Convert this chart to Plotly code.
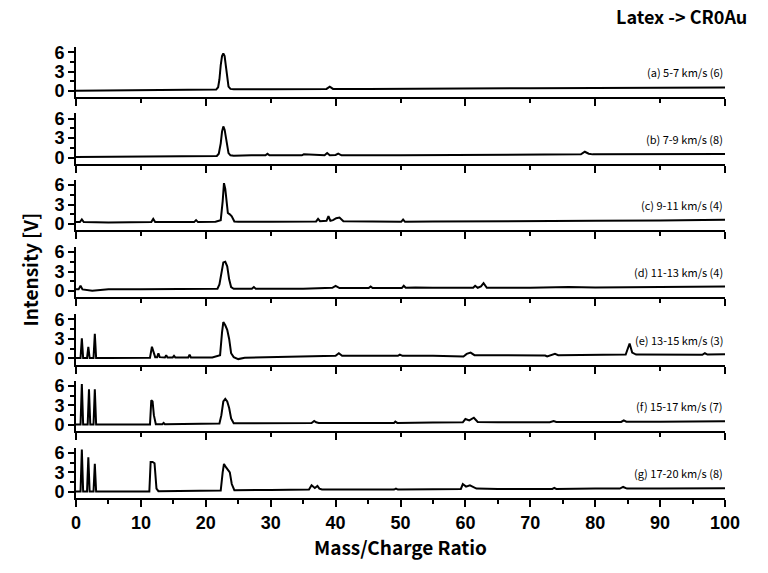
import plotly.graph_objects as go

# ---------------- data ----------------
labels = ["(a) 5-7 km/s (6)", "(b) 7-9 km/s (8)", "(c) 9-11 km/s (4)", "(d) 11-13 km/s (4)",
          "(e) 13-15 km/s (3)", "(f) 15-17 km/s (7)", "(g) 17-20 km/s (8)"]

a_x = [0, 5, 10, 15, 20, 21.6, 21.9, 22.1, 22.3, 22.5, 22.7, 22.9, 23.1, 23.3, 23.5, 23.8, 24.3, 30, 35,
       38.6, 39.1, 39.6, 45, 50, 60, 70, 80, 90, 100]
a_y = [0.05, 0.08, 0.1, 0.15, 0.2, 0.25, 0.6, 1.8, 4.0, 5.4, 5.8, 5.4, 3.8, 1.8, 0.7, 0.35, 0.3, 0.3, 0.3,
       0.35, 0.7, 0.35, 0.35, 0.35, 0.4, 0.45, 0.5, 0.5, 0.55]

b_x = [0, 5, 10, 15, 20, 21.7, 22.0, 22.3, 22.5, 22.7, 22.9, 23.1, 23.3, 23.5, 23.8, 24.3, 27, 29.2, 29.5,
       29.8, 34.8, 35.1, 38.3, 38.7, 39.1, 40.0, 40.4, 40.9, 50, 60, 70, 77.8, 78.4, 79.0, 79.6, 90, 100]
b_y = [0.1, 0.12, 0.15, 0.18, 0.2, 0.25, 0.6, 2.2, 4.0, 4.8, 4.3, 3.0, 1.5, 0.7, 0.35, 0.3, 0.35, 0.35, 0.6,
       0.35, 0.35, 0.5, 0.35, 0.7, 0.35, 0.4, 0.6, 0.35, 0.35, 0.4, 0.45, 0.5, 0.9, 0.6, 0.5, 0.5, 0.55]

c_x = [0, 0.6, 0.9, 1.2, 5, 10, 11.6, 11.9, 12.2, 15, 18.2, 18.5, 18.8, 21.5, 22.3, 22.6, 22.8, 23.0,
       23.2, 23.4, 23.7, 24.0, 24.4, 25, 30, 35, 37.0, 37.3, 37.6, 38.6, 38.9, 39.2, 39.6, 40.1, 40.6,
       41.2, 45, 50.1, 50.4, 50.7, 55, 60, 70, 80, 90, 100]
c_y = [0.3, 0.3, 0.7, 0.3, 0.25, 0.3, 0.3, 0.8, 0.3, 0.3, 0.3, 0.6, 0.3, 0.35, 0.6, 3.5, 6.3, 5.4, 2.8,
       1.7, 1.5, 1.2, 0.4, 0.35, 0.35, 0.35, 0.4, 0.8, 0.45, 0.5, 1.2, 0.5, 0.6, 0.9, 1.0, 0.45, 0.4,
       0.35, 0.7, 0.35, 0.4, 0.4, 0.5, 0.5, 0.55, 0.65]

d_x = [0, 0.4, 0.7, 1.0, 2.5, 5, 10, 15, 20, 21.8, 22.1, 22.4, 22.7, 23.0, 23.3, 23.6, 23.9, 24.3, 25,
       27.1, 27.4, 27.7, 35, 39.5, 40.0, 40.6, 45.1, 45.4, 45.7, 50.2, 50.5, 50.8, 52.3, 55, 61.2, 61.5,
       61.9, 62.4, 62.8, 63.3, 70, 75.9, 80, 90, 100]
d_y = [0.25, 0.25, 0.8, 0.25, 0.05, 0.25, 0.25, 0.3, 0.3, 0.35, 1.0, 3.0, 4.4, 4.5, 3.8, 1.8, 0.6, 0.35,
       0.35, 0.35, 0.6, 0.35, 0.35, 0.5, 0.8, 0.45, 0.45, 0.7, 0.45, 0.45, 0.8, 0.5, 0.55, 0.5, 0.5, 0.8,
       0.5, 0.7, 1.2, 0.5, 0.5, 0.6, 0.55, 0.6, 0.7]

e_x = [0, 0.7, 0.9, 1.1, 1.7, 1.9, 2.1, 2.7, 2.9, 3.1, 5, 10, 11.4, 11.7, 11.9, 12.2, 12.5, 12.7, 12.9,
       13.7, 13.9, 14.1, 14.9, 15.1, 15.3, 17.3, 17.5, 17.7, 21, 22.2, 22.5, 22.7, 23.0, 23.3, 23.6,
       23.9, 24.3, 25.0, 26, 30, 35, 40.0, 40.5, 41.0, 45, 49.6, 49.9, 50.3, 55, 59.4, 59.7, 60.2, 60.8,
       61.4, 65, 72.3, 72.6, 73.2, 73.8, 74.3, 80, 84.7, 85.3, 85.7, 86.3, 90, 96.5, 96.9, 97.3, 100]
e_y = [0.05, 0.05, 3.1, 0.05, 0.05, 1.8, 0.05, 0.05, 3.8, 0.05, 0.05, 0.1, 0.1, 1.8, 1.0, 0.2, 0.2, 0.8,
       0.2, 0.15, 0.5, 0.15, 0.15, 0.4, 0.15, 0.15, 0.6, 0.15, 0.15, 0.5, 4.0, 5.6, 5.1, 4.4, 3.0,
       0.8, 0.2, -0.1, 0.1, 0.2, 0.3, 0.4, 0.8, 0.4, 0.4, 0.4, 0.6, 0.4, 0.4, 0.4, 0.3, 0.7, 0.9,
       0.5, 0.45, 0.45, 0.3, 0.5, 0.7, 0.5, 0.5, 0.6, 2.3, 0.9, 0.6, 0.55, 0.55, 0.8, 0.6, 0.65]

f_x = [0, 0.7, 0.9, 1.1, 1.8, 2.0, 2.2, 2.7, 2.9, 3.1, 5, 10, 11.4, 11.6, 11.8, 12.0, 12.3, 13.3, 13.5,
       13.7, 20, 22.1, 22.4, 22.7, 23.0, 23.3, 23.6, 23.9, 24.3, 30, 36.3, 36.7, 37.0, 37.4, 40, 49.0,
       49.2, 49.5, 55, 59.6, 60.0, 60.6, 61.3, 61.9, 65, 73.0, 73.6, 74.0, 80, 84.0, 84.4, 84.8, 90, 100]
f_y = [0.05, 0.05, 6.3, 0.05, 0.05, 5.5, 0.05, 0.05, 5.5, 0.05, 0.05, 0.05, 0.05, 3.8, 3.6, 1.5, 0.1,
       0.1, 0.3, 0.1, 0.1, 0.2, 1.5, 3.6, 4.0, 3.6, 2.6, 1.0, 0.25, 0.25, 0.3, 0.6, 0.4, 0.3, 0.3, 0.3,
       0.5, 0.3, 0.35, 0.4, 0.9, 0.7, 1.1, 0.45, 0.4, 0.4, 0.6, 0.45, 0.45, 0.45, 0.7, 0.5, 0.5, 0.55]

g_x = [0, 0.7, 0.9, 1.1, 1.7, 1.9, 2.1, 2.7, 2.9, 3.1, 5, 10, 11.3, 11.5, 11.8, 12.1, 12.4, 12.7, 20,
       22.3, 22.6, 22.8, 23.1, 23.4, 23.7, 24.0, 24.4, 30, 35.9, 36.3, 36.8, 37.2, 37.5, 37.9, 45, 49.0,
       49.3, 49.6, 55, 59.3, 59.6, 60.1, 60.7, 61.2, 61.7, 65, 73.4, 73.7, 74.0, 80, 83.8, 84.3, 84.9,
       90, 100]
g_y = [0.05, 0.05, 6.5, 0.05, 0.05, 5.3, 0.05, 0.05, 4.3, 0.05, 0.05, 0.05, 0.05, 4.6, 4.6, 4.4, 0.5,
       0.1, 0.1, 0.2, 3.0, 4.3, 3.8, 3.4, 3.0, 1.2, 0.25, 0.3, 0.35, 1.0, 0.6, 0.9, 0.5, 0.35, 0.35,
       0.35, 0.5, 0.35, 0.4, 0.45, 1.2, 0.8, 1.0, 0.8, 0.5, 0.45, 0.45, 0.6, 0.45, 0.5, 0.5, 0.75, 0.5,
       0.5, 0.55]

xs = [a_x, b_x, c_x, d_x, e_x, f_x, g_x]
ys = [a_y, b_y, c_y, d_y, e_y, f_y, g_y]

# ---------------- layout geometry ----------------
W, H = 768, 573
zero_px = [91, 157.5, 224, 291, 358.5, 425, 492]
px_per_unit = 6.5
y_lo, y_hi = -0.95, 6.8
x_left_px = 75.5
x_right_px = x_left_px + 100 * px_per_unit
top_px_all = zero_px[0] - y_hi * px_per_unit
bot_px_all = zero_px[-1] - y_lo * px_per_unit
PW = x_right_px - x_left_px
PH = bot_px_all - top_px_all


def px_to_paper_x(px):
    return (px - x_left_px) / PW


def px_to_paper_y(py):
    return (bot_px_all - py) / PH


FONT = "Noto Sans CJK JP"
TICKFONT = dict(family="Liberation Sans", size=18, color="black", weight="bold")

fig = go.Figure()
layout = dict(
    width=W, height=H,
    margin=dict(l=x_left_px, r=W - x_right_px, t=top_px_all, b=H - bot_px_all, autoexpand=False),
    paper_bgcolor="white", plot_bgcolor="white",
    showlegend=False,
)
annotations = []
n = len(xs)
for i in range(n):
    k = "" if i == 0 else str(i + 1)
    fig.add_trace(go.Scatter(x=xs[i], y=ys[i], mode="lines",
                             line=dict(color="black", width=2),
                             xaxis="x" + k, yaxis="y" + k, hoverinfo="skip"))
    bottom_px = zero_px[i] - y_lo * px_per_unit
    top_px = zero_px[i] - y_hi * px_per_unit
    last = (i == n - 1)
    layout["xaxis" + k] = dict(
        domain=[0, 1],
        anchor="y" + k, range=[0, 100],
        showgrid=False, zeroline=False,
        showline=True, linecolor="black", linewidth=2,
        ticks="outside", tickcolor="black", tickwidth=2, ticklen=7,
        tick0=0, dtick=10 if last else 20,
        minor=dict(ticks="outside", tickcolor="black", tickwidth=1.5, ticklen=4,
                   dtick=5 if last else 10, tick0=0),
        showticklabels=last, tickfont=TICKFONT,
    )
    layout["yaxis" + k] = dict(
        domain=[max(0, px_to_paper_y(bottom_px)), min(1, px_to_paper_y(top_px))],
        anchor="x" + k, range=[y_lo, y_hi],
        showgrid=False, zeroline=False,
        showline=True, linecolor="black", linewidth=2,
        ticks="outside", tickcolor="black", tickwidth=2, ticklen=6,
        tickvals=[0, 3, 6], ticktext=["0", "3", "6"],
        minor=dict(ticks="outside", tickcolor="black", tickwidth=1.5, ticklen=4,
                   tickvals=[1.5, 4.5]),
        tickfont=TICKFONT,
    )
    annotations.append(dict(
        text=labels[i], xref="x" + k, yref="y" + k, x=100, y=2.9,
        xanchor="right", yanchor="middle", showarrow=False,
        font=dict(family=FONT, size=11, color="black"),
    ))

annotations.append(dict(text="Latex -> CR0Au", xref="paper", yref="paper",
                        x=px_to_paper_x(682), y=px_to_paper_y(16), xanchor="center", yanchor="middle",
                        showarrow=False, font=dict(family=FONT, size=18, color="black", weight=600)))
annotations.append(dict(text="Intensity [V]", xref="paper", yref="paper",
                        x=px_to_paper_x(28), y=px_to_paper_y(270), xanchor="center", yanchor="middle",
                        textangle=-90, showarrow=False,
                        font=dict(family=FONT, size=19, color="black", weight=600)))
annotations.append(dict(text="Mass/Charge Ratio", xref="paper", yref="paper",
                        x=px_to_paper_x(400), y=px_to_paper_y(547), xanchor="center", yanchor="middle",
                        showarrow=False, font=dict(family=FONT, size=19, color="black", weight=600)))
layout["annotations"] = annotations
fig.update_layout(**layout)
fig.write_html("out.html", config={"displayModeBar": False},
               post_script="document.body.style.margin='0';document.body.style.overflow='hidden';")
